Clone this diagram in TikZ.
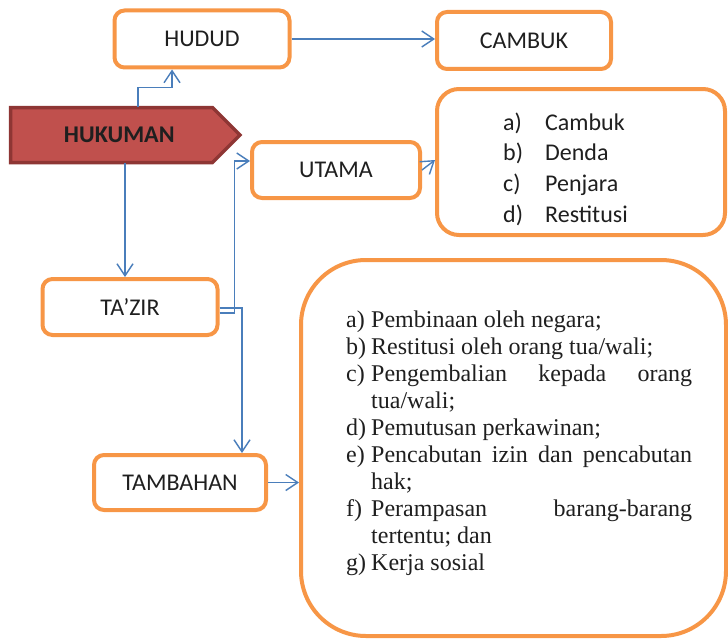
\documentclass[tikz,border=0pt]{standalone}
\usepackage{fontspec}
\setmainfont{Carlito}
\newfontfamily\listserif{Liberation Serif}
\usetikzlibrary{arrows.meta}
\definecolor{orng}{HTML}{F79646}
\definecolor{blu}{HTML}{4A7EBB}
\definecolor{redfill}{HTML}{C0504D}
\definecolor{redline}{HTML}{8E3634}
\definecolor{txt}{HTML}{1F1F1F}
\newcommand\itemlab[1]{\makebox[25pt][l]{#1}}
\begin{document}
\begin{tikzpicture}[x=1pt,y=-1pt,
  box/.style={draw=orng, line width=4pt, rounded corners=10pt, fill=white,
    text=txt, font=\fontsize{24}{28}\selectfont, inner sep=0pt},
  bigbox/.style={draw=orng, line width=4pt, fill=white, inner sep=0pt},
  conn/.style={draw=blu, line width=1.4pt,
    -{Straight Barb[length=12pt,width=16pt,line width=1.4pt]}},
  hukshape/.style={draw=redline, line width=3.5pt, fill=redfill, line join=miter},
  huktext/.style={text=txt, font=\bfseries\fontsize{24}{28}\selectfont, inner sep=0pt}]
\useasboundingbox (0,0) rectangle (728,642);

% boxes
\node[box, minimum width=175pt, minimum height=57pt] (hudud) at (202,39) {HUDUD};
\node[box, minimum width=174pt, minimum height=57pt] (cambuk) at (524,40.5) {CAMBUK};
\node[box, minimum width=168pt, minimum height=56pt] (utama) at (336,170) {UTAMA};
\node[box, minimum width=175pt, minimum height=56pt] (tazir) at (130,307) {TA’ZIR};
\node[box, minimum width=172pt, minimum height=55pt] (tambahan) at (180,482.5) {TAMBAHAN};
\node[bigbox, rounded corners=22pt, minimum width=288pt, minimum height=146pt] (list1) at (581,162) {};
\node[bigbox, rounded corners=65pt, minimum width=425pt, minimum height=376pt] (list2) at (513.5,448) {};

% HUKUMAN pentagon arrow
\path[hukshape] (10.5,107.5) -- (212.5,107.5) -- (240,135) -- (212.5,162.5) -- (10.5,162.5) -- cycle;
\node[huktext, minimum width=229.5pt, minimum height=55pt] (hukuman) at (125.25,135) {HUKUMAN\hspace*{12pt}};

% list texts
\node[anchor=base west, inner sep=0pt, text=txt, font=\fontsize{24}{30.7}\selectfont] (list1text) at (503,130)
  {\begin{tabular}[t]{@{}p{42pt}@{}l@{}}
   a) & Cambuk\\
   b) & Denda\\
   c) & Penjara\\
   d) & Restitusi
   \end{tabular}};
\node[anchor=base west, inner sep=0pt, text=txt, font=\listserif\fontsize{24}{27}\selectfont] (list2text) at (346,327)
  {\parbox[t]{346pt}{%
   \itemlab{a)}Pembinaan oleh negara;\\
   \itemlab{b)}Restitusi oleh orang tua/wali;\\
   \itemlab{c)}\hbox to 321pt{Pengembalian\hfill kepada\hfill orang}\\
   \hspace*{25pt}tua/wali;\\
   \itemlab{d)}Pemutusan perkawinan;\\
   \itemlab{e)}\hbox to 321pt{Pencabutan\hfill izin\hfill dan\hfill pencabutan}\\
   \hspace*{25pt}hak;\\
   \itemlab{f)}\hbox to 321pt{Perampasan\hfill barang-barang}\\
   \hspace*{25pt}tertentu; dan\\
   \itemlab{g)}Kerja sosial}};

% connectors
\draw[conn] ([xshift=12.75pt]hukuman.north) -- ++(0,-20) -| ([xshift=-30pt]hudud.south);
\draw[conn] (hudud.east) -- (hudud.east -| cambuk.west);
\draw[conn] ([xshift=-0.25pt]hukuman.south) -- ([xshift=-5pt]tazir.north);
\draw[conn] ([yshift=-6pt]tazir.east) -- ++(15,0) |- ([yshift=9pt]utama.west);
\draw[conn] ([yshift=-1pt]tazir.east) -| ([xshift=62pt]tambahan.north);
\draw[conn] (utama.east) -- ([yshift=2pt]list1.west);
\draw[conn] (tambahan.east) -- (tambahan.east -| list2.west);
\end{tikzpicture}
\end{document}
